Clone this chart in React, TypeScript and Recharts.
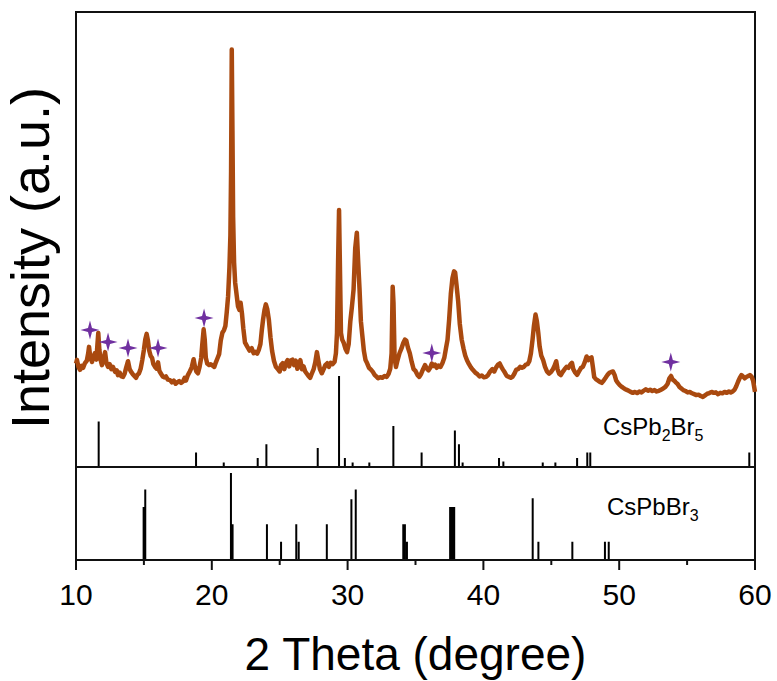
import React from "react";
import { ComposedChart, Line, Scatter, XAxis, YAxis, ReferenceArea, Label } from "recharts";

const FONT = "'Liberation Sans', Arial, Helvetica, sans-serif";
const CURVE = "#a9490f";
const STAR = "#7030a0";
const INK = "#111";

// measured pattern: 2θ (deg) and counts
const xrdTheta = [
  10.0, 10.07, 10.18, 10.29, 10.4, 10.52, 10.66, 10.8, 10.9, 10.96,
  11.05, 11.18, 11.3, 11.4, 11.5, 11.58, 11.64, 11.72, 11.82, 11.91,
  12.02, 12.14, 12.24, 12.36, 12.48, 12.6, 12.72, 12.88, 13.0, 13.09,
  13.22, 13.34, 13.46, 13.58, 13.7, 13.83, 13.95, 14.06, 14.18, 14.3,
  14.42, 14.52, 14.64, 14.76, 14.88, 15.0, 15.1, 15.2, 15.3, 15.4,
  15.5, 15.6, 15.7, 15.82, 15.94, 16.04, 16.14, 16.26, 16.38, 16.5,
  16.62, 16.76, 16.92, 17.06, 17.2, 17.34, 17.46, 17.6, 17.74, 17.88,
  18.0, 18.1, 18.24, 18.38, 18.52, 18.66, 18.76, 18.86, 18.98, 19.1,
  19.22, 19.3, 19.4, 19.48, 19.56, 19.66, 19.8, 19.92, 20.04, 20.18,
  20.3, 20.42, 20.54, 20.66, 20.78, 20.9, 21.0, 21.1, 21.2, 21.3,
  21.37, 21.42, 21.47, 21.52, 21.57, 21.64, 21.72, 21.82, 21.93, 22.04,
  22.12, 22.22, 22.32, 22.44, 22.6, 22.78, 22.94, 23.08, 23.2, 23.34,
  23.46, 23.58, 23.68, 23.78, 23.88, 23.98, 24.08, 24.2, 24.32, 24.44,
  24.58, 24.72, 24.86, 25.0, 25.1, 25.22, 25.34, 25.46, 25.58, 25.7,
  25.82, 25.94, 26.06, 26.18, 26.3, 26.42, 26.52, 26.64, 26.76, 26.88,
  27.0, 27.12, 27.24, 27.36, 27.5, 27.62, 27.74, 27.84, 27.96, 28.1,
  28.24, 28.36, 28.5, 28.62, 28.76, 28.9, 29.04, 29.14, 29.22, 29.3,
  29.37, 29.44, 29.51, 29.6, 29.72, 29.84, 29.96, 30.08, 30.2, 30.32,
  30.44, 30.56, 30.68, 30.78, 30.88, 30.98, 31.08, 31.2, 31.32, 31.44,
  31.58, 31.72, 31.86, 32.0, 32.12, 32.24, 32.4, 32.56, 32.72, 32.88,
  33.02, 33.14, 33.24, 33.32, 33.38, 33.46, 33.56, 33.68, 33.82, 33.96,
  34.1, 34.22, 34.32, 34.44, 34.58, 34.72, 34.86, 35.0, 35.14, 35.28,
  35.42, 35.56, 35.7, 35.84, 35.96, 36.08, 36.2, 36.32, 36.44, 36.56,
  36.7, 36.84, 36.98, 37.12, 37.24, 37.36, 37.48, 37.6, 37.72, 37.84,
  37.92, 38.02, 38.14, 38.26, 38.4, 38.54, 38.66, 38.8, 38.94, 39.08,
  39.22, 39.4, 39.56, 39.72, 39.88, 40.04, 40.2, 40.34, 40.5, 40.66,
  40.8, 40.94, 41.08, 41.2, 41.32, 41.44, 41.58, 41.72, 41.88, 42.02,
  42.14, 42.28, 42.42, 42.56, 42.7, 42.84, 42.98, 43.12, 43.26, 43.38,
  43.5, 43.62, 43.72, 43.84, 43.94, 44.04, 44.14, 44.26, 44.4, 44.54,
  44.68, 44.84, 44.98, 45.12, 45.24, 45.36, 45.46, 45.58, 45.7, 45.84,
  45.98, 46.12, 46.26, 46.4, 46.52, 46.62, 46.76, 46.9, 47.04, 47.18,
  47.32, 47.46, 47.6, 47.72, 47.84, 47.96, 48.06, 48.16, 48.3, 48.44,
  48.58, 48.72, 48.86, 49.0, 49.14, 49.28, 49.42, 49.54, 49.66, 49.78,
  49.9, 50.04, 50.2, 50.36, 50.52, 50.68, 50.84, 51.0, 51.16, 51.32,
  51.48, 51.64, 51.8, 51.96, 52.12, 52.28, 52.44, 52.6, 52.76, 52.92,
  53.08, 53.24, 53.4, 53.56, 53.7, 53.82, 53.92, 54.04, 54.16, 54.3,
  54.44, 54.58, 54.72, 54.88, 55.04, 55.2, 55.36, 55.52, 55.68, 55.84,
  56.0, 56.16, 56.32, 56.48, 56.64, 56.8, 56.96, 57.12, 57.28, 57.44,
  57.6, 57.76, 57.92, 58.08, 58.22, 58.36, 58.5, 58.62, 58.76, 58.88,
  59.0, 59.12, 59.24, 59.36, 59.5, 59.62, 59.74, 59.86, 60.0,
];
const xrdCounts = [
  455, 471, 440, 427, 445, 436, 457, 468, 500, 528,
  482, 462, 488, 501, 472, 540, 589, 515, 468, 448,
  472, 505, 458, 440, 452, 430, 440, 418, 425, 404,
  415, 398, 396, 410, 438, 465, 430, 418, 408, 400,
  392, 405, 412, 432, 470, 515, 560, 585, 555, 510,
  488, 480, 452, 440, 432, 460, 422, 410, 398, 394,
  398, 384, 382, 372, 380, 366, 372, 378, 370, 376,
  392, 380, 404, 420, 438, 474, 440, 420, 412, 440,
  480, 540, 605, 560, 480, 455, 448, 452, 446, 440,
  460, 478, 496, 556, 590, 602, 620, 680, 750, 880,
  1020, 1300, 1835, 1480, 1100, 900, 810, 760, 706, 690,
  722, 676, 610, 548, 530, 512, 522, 500, 506, 498,
  515, 540, 600, 650, 690, 715, 695, 648, 570, 510,
  466, 440, 430, 420, 448, 456, 430, 458, 470, 442,
  468, 472, 448, 468, 432, 450, 470, 430, 442, 420,
  410, 400, 392, 410, 430, 460, 505, 470, 430, 412,
  430, 448, 456, 440, 458, 452, 462, 500, 590, 900,
  1130, 860, 590, 560, 545, 520, 505, 540, 640, 705,
  780, 960, 1030, 900, 780, 640, 580, 510, 470, 456,
  436, 428, 418, 404, 398, 390, 395, 392, 400, 396,
  410, 432, 500, 792, 720, 480, 440, 470, 500, 520,
  545, 560, 556, 525, 500, 462, 430, 422, 405, 396,
  410, 430, 448, 432, 425, 436, 455, 444, 450, 436,
  446, 440, 456, 480, 520, 560, 650, 760, 830, 860,
  855, 800, 730, 630, 560, 520, 490, 468, 452, 438,
  427, 415, 408, 398, 402, 394, 396, 404, 420, 430,
  420, 438, 450, 455, 440, 428, 415, 400, 396, 392,
  396, 410, 428, 430, 440, 436, 440, 450, 452, 465,
  500, 560, 620, 670, 640, 590, 530, 490, 470, 440,
  420, 410, 418, 430, 445, 465, 430, 410, 404, 418,
  430, 440, 436, 450, 458, 430, 415, 405, 420, 435,
  440, 460, 486, 470, 478, 482, 440, 395, 385, 380,
  374, 370, 380, 392, 405, 414, 418, 420, 405, 380,
  370, 360, 352, 345, 340, 336, 330, 326, 330, 325,
  332, 328, 335, 342, 335, 340, 334, 338, 332, 335,
  340, 345, 352, 365, 390, 400, 385, 380, 372, 365,
  352, 345, 338, 334, 328, 330, 324, 320, 316, 318,
  312, 308, 315, 322, 325, 330, 326, 328, 320, 326,
  324, 330, 326, 332, 328, 332, 340, 355, 376, 392,
  404, 398, 390, 396, 400, 404, 398, 380, 330,
];

// marked secondary-phase peaks
const starTheta = [11.03, 12.36, 13.83, 16.04, 19.43, 36.2, 53.8];
const starCounts = [602, 550, 523, 523, 655, 501, 462];

// reference patterns, relative intensity (%)
const cspb2br5Theta = [11.67, 18.84, 20.88, 23.38, 24.02, 27.8, 29.37, 29.8, 30.37, 31.6, 33.37, 35.45, 37.9, 38.2, 38.47, 41.15, 41.47, 44.37, 45.3, 46.9, 47.65, 47.87, 59.58];
const cspb2br5Rel = [50, 16, 5, 10, 25, 21, 100, 10, 5, 5, 45, 16, 40, 25, 5, 10, 6, 5, 5, 10, 16, 16, 16];

const cspbbr3Theta = [14.98, 15.1, 21.41, 21.53, 24.06, 25.1, 26.22, 26.4, 28.47, 30.28, 30.6, 34.1, 34.22, 34.37, 37.55, 37.65, 37.75, 37.85, 43.63, 44.05, 46.55, 48.95, 49.23];
const cspbbr3Rel = [61, 81, 100, 41, 41, 21, 41, 21, 41, 70, 81, 41, 41, 21, 61, 61, 61, 61, 71, 21, 21, 21, 21];

const thetaTicks = [10, 15, 20, 25, 30, 35, 40, 45, 50, 55, 60];

const xrdRows = xrdTheta.map((t, i) => ({ theta: t, counts: xrdCounts[i] }));
const starRows = starTheta.map((t, i) => ({ theta: t, counts: starCounts[i] }));

// each reflection becomes a vertical stroke up from zero and back down
const stickRows = (theta: number[], rel: number[]) =>
  theta.flatMap((t, i) => [
    { theta: t, rel: 0 },
    { theta: t, rel: rel[i] },
    { theta: t, rel: 0 },
  ]);

const star = (props: any) => {
  const { cx, cy } = props;
  const r = 9.5;
  const w = 2;
  const d = `M${cx},${cy - r} L${cx + w},${cy - w} L${cx + r},${cy} L${cx + w},${cy + w} L${cx},${cy + r} L${cx - w},${cy + w} L${cx - r},${cy} L${cx - w},${cy - w} Z`;
  return <path d={d} fill={STAR} />;
};

const ThetaTick = (props: any) => {
  const { x, y, payload } = props;
  const major = payload.value % 10 === 0;
  const base = y - 10;
  return (
    <g>
      <line x1={x} x2={x} y1={base} y2={base + (major ? 10 : 5)} stroke={INK} strokeWidth={2} />
      {major && (
        <text x={x} y={base + 45} textAnchor="middle" fontSize={30} fontFamily={FONT} fill="#000">
          {payload.value}
        </text>
      )}
    </g>
  );
};

const W = 777;
const H = 681;
const layer: React.CSSProperties = { position: "absolute", left: 0, top: 0 };

export default function App() {
  return (
    <div style={{ position: "absolute", left: 0, top: 0, width: W, height: H, background: "#fff" }}>
      {/* upper panel: measured pattern + CsPb2Br5 reference */}
      <div style={layer}>
        <ComposedChart width={W} height={H} data={xrdRows} margin={{ top: 12, right: 22, bottom: 214, left: 76 }}>
          <XAxis dataKey="theta" type="number" domain={[10, 60]} hide />
          <YAxis yAxisId="xrd" type="number" domain={[0, 2000]} hide />
          <YAxis yAxisId="ref" type="number" domain={[0, 500]} hide />
          <ReferenceArea yAxisId="xrd" x1={10} x2={60} y1={0} y2={2000} fill="none" stroke={INK} strokeWidth={2} />
          <Line
            yAxisId="ref"
            data={stickRows(cspb2br5Theta, cspb2br5Rel)}
            dataKey="rel"
            type="linear"
            stroke="#000"
            strokeWidth={2}
            dot={false}
            isAnimationActive={false}
          />
          <Line
            yAxisId="xrd"
            dataKey="counts"
            type="linear"
            stroke={CURVE}
            strokeWidth={4.5}
            strokeLinejoin="round"
            dot={false}
            isAnimationActive={false}
          />
          <Scatter yAxisId="xrd" data={starRows} dataKey="counts" shape={star} isAnimationActive={false} />
        </ComposedChart>
      </div>

      {/* lower panel: CsPbBr3 reference + 2θ axis */}
      <div style={layer}>
        <ComposedChart width={W} height={H} margin={{ top: 467, right: 22, bottom: 61, left: 76 }}>
          <XAxis
            dataKey="theta"
            type="number"
            domain={[10, 60]}
            ticks={thetaTicks}
            interval={0}
            height={60}
            tickSize={10}
            tickMargin={0}
            tickLine={false}
            axisLine={{ stroke: INK, strokeWidth: 2 }}
            tick={ThetaTick}
          >
            <Label
              content={(p: any) => {
                const vb = p.viewBox;
                return (
                  <text
                    x={vb.x + vb.width / 2}
                    y={vb.y + 110}
                    textAnchor="middle"
                    fontSize={46}
                    fontFamily={FONT}
                    fill="#000"
                  >
                    2 Theta (degree)
                  </text>
                );
              }}
            />
          </XAxis>
          <YAxis type="number" domain={[0, 107]} hide />
          <ReferenceArea x1={10} x2={60} y1={0} y2={107} fill="none" stroke={INK} strokeWidth={2} />
          <Line
            data={stickRows(cspbbr3Theta, cspbbr3Rel)}
            dataKey="rel"
            type="linear"
            stroke="#000"
            strokeWidth={2}
            dot={false}
            isAnimationActive={false}
          />
        </ComposedChart>
      </div>

      {/* axis title and phase names */}
      <svg width={W} height={H} style={{ ...layer, pointerEvents: "none" }}>
        <text
          x={49}
          y={258}
          transform="rotate(-90, 49, 258)"
          textAnchor="middle"
          fontSize={54}
          fontFamily={FONT}
          fill="#000"
        >
          Intensity (a.u.)
        </text>
        <text x={603} y={435} fontSize={24} fontFamily={FONT} fill="#000">
          CsPb<tspan fontSize={16} dy={6}>2</tspan>
          <tspan dy={-6}>Br</tspan>
          <tspan fontSize={16} dy={6}>5</tspan>
        </text>
        <text x={607} y={515} fontSize={24} fontFamily={FONT} fill="#000">
          CsPbBr<tspan fontSize={16} dy={6}>3</tspan>
        </text>
      </svg>
    </div>
  );
}
